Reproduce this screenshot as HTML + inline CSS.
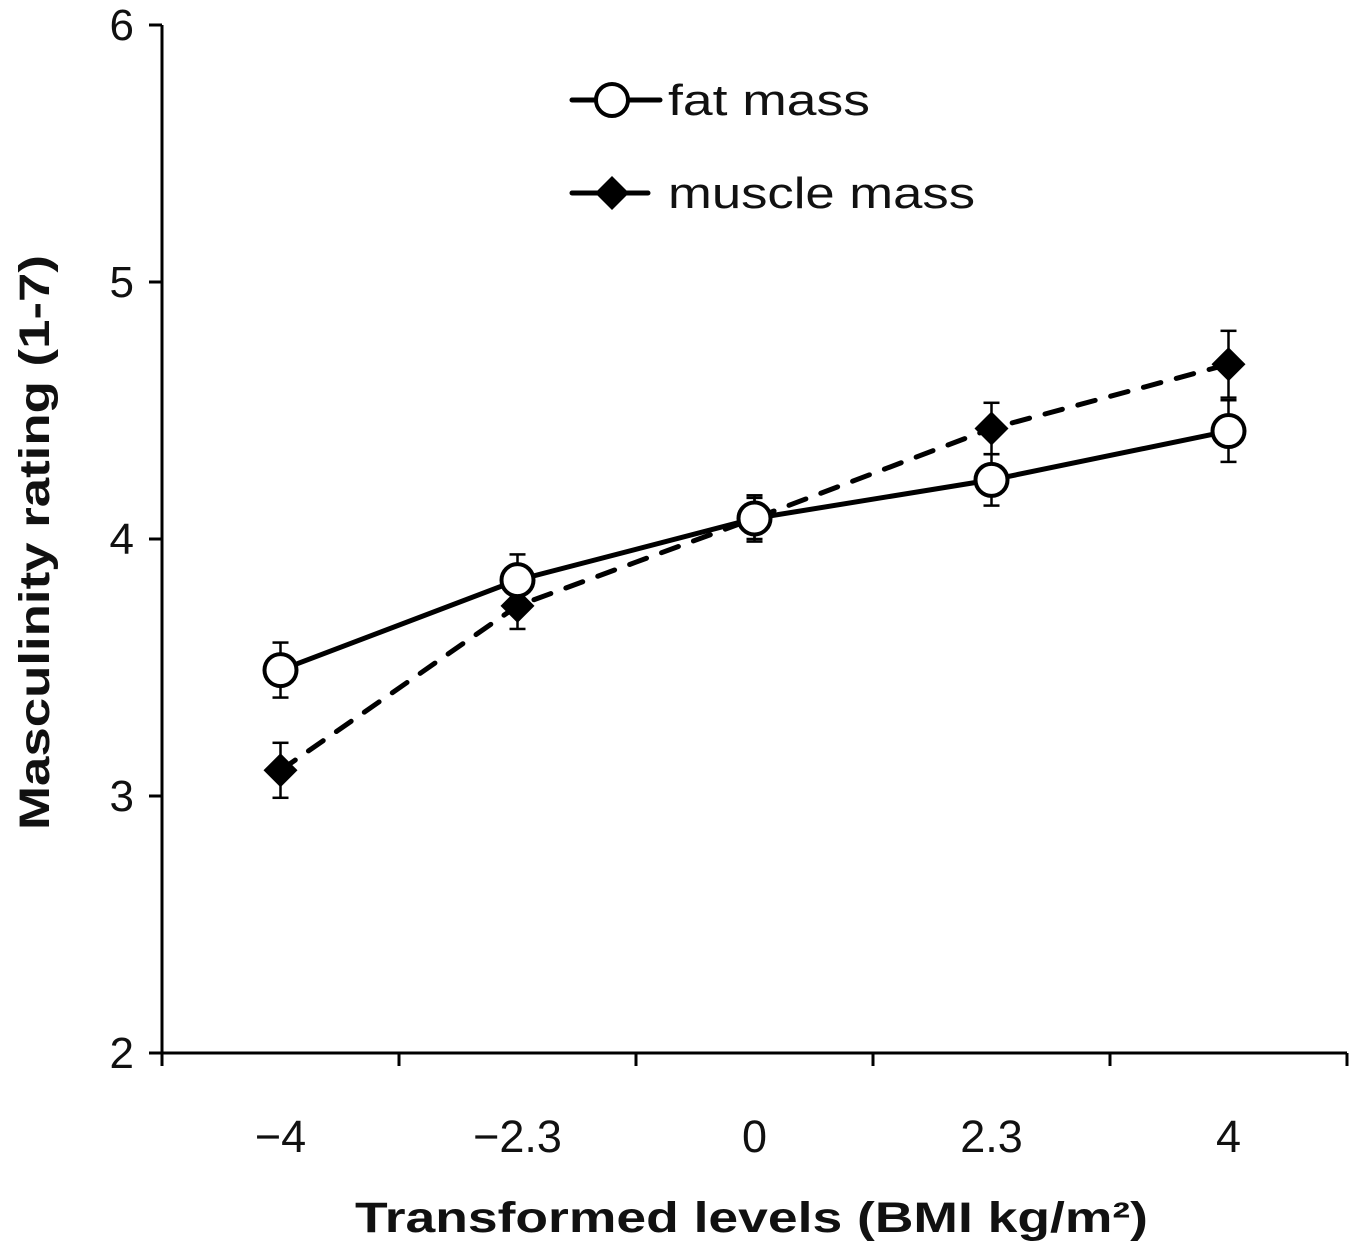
<!DOCTYPE html>
<html><head><meta charset="utf-8"><style>
body{margin:0;background:#fff;}
svg text{font-family:"Liberation Sans",sans-serif;fill:#111;}
</style></head><body>
<svg id="chart" width="1357" height="1250" viewBox="0 0 1357 1250" xmlns="http://www.w3.org/2000/svg">
<g id="axes"></g><g id="series"></g>
<g>
 <g>
  <line x1="572" y1="100" x2="660" y2="100" stroke="#000" stroke-width="5" stroke-linecap="round"/>
  <circle cx="612" cy="100" r="16" fill="#fff" stroke="#000" stroke-width="4"/>
  <text x="668" y="115" font-size="44" textLength="202" lengthAdjust="spacingAndGlyphs">fat mass</text>
 </g>
 <g>
  <line x1="572" y1="193" x2="648" y2="193" stroke="#000" stroke-width="5" stroke-linecap="round"/>
  <polygon points="612,176 629,193 612,210 595,193" fill="#000"/>
  <text x="668" y="208" font-size="44" textLength="307" lengthAdjust="spacingAndGlyphs">muscle mass</text>
 </g>
</g>
<text x="355" y="1232" font-size="43" font-weight="bold" textLength="793" lengthAdjust="spacingAndGlyphs">Transformed levels (BMI kg/m²)</text>
<text transform="translate(49,830) rotate(-90)" font-size="43" font-weight="bold" textLength="575" lengthAdjust="spacingAndGlyphs">Masculinity rating (1-7)</text>
</svg>
<script>
const categories = ["\u22124", "\u22122.3", "0", "2.3", "4"];
const fatValues = [3.49, 3.84, 4.08, 4.23, 4.42];
const fatErrors = [0.107, 0.10, 0.09, 0.10, 0.12];
const muscleValues = [3.10, 3.74, 4.08, 4.43, 4.68];
const muscleErrors = [0.107, 0.09, 0.08, 0.10, 0.13];
const yTicks = [2, 3, 4, 5, 6];

const NS = "http://www.w3.org/2000/svg";
const x0 = 162, x1 = 1347, yBase = 1053, yTop = 25;
const yMin = 2, yMax = 6;
const band = (x1 - x0) / categories.length;
const xScale = i => x0 + band * (i + 0.5);
const yScale = v => yBase - (v - yMin) / (yMax - yMin) * (yBase - yTop);
function mk(tag, attrs, parent) {
  const e = document.createElementNS(NS, tag);
  for (const k in attrs) e.setAttribute(k, attrs[k]);
  parent.appendChild(e); return e;
}
const axes = document.getElementById("axes");
const series = document.getElementById("series");

let a = mk("line", {x1: x0, y1: yTop, x2: x0, y2: yBase, stroke: "#000", "stroke-width": 3}, axes);


a = mk("line", {x1: x0, y1: yBase, x2: x1, y2: yBase, stroke: "#000", "stroke-width": 3}, axes);



yTicks.forEach(t => {
  const y = yScale(t);
  mk("line", {x1: x0 - 13, y1: y, x2: x0, y2: y, stroke: "#000", "stroke-width": 3}, axes);
  const tx = mk("text", {x: 134, y: y + 15, "font-size": 44, "text-anchor": "end"}, axes);
  tx.textContent = t;
  
  
});
for (let i = 0; i <= categories.length; i++) {
  const x = x0 + band * i;
  mk("line", {x1: x, y1: yBase, x2: x, y2: yBase + 13, stroke: "#000", "stroke-width": 3}, axes);
}
categories.forEach((c, i) => {
  const tx = mk("text", {x: xScale(i), y: 1152, "font-size": 45, "text-anchor": "middle"}, axes);
  tx.textContent = c;
  
  
});

function drawSeries(vals, errs, dashed, marker, name) {
  const g = mk("g", {}, series);
  
  
  const pts = vals.map((v, i) => xScale(i) + "," + yScale(v)).join(" ");
  const pl = mk("polyline", {points: pts, fill: "none", stroke: "#000", "stroke-width": 5, "stroke-linecap": "round"}, g);
  if (dashed) pl.setAttribute("stroke-dasharray", "18 16");
  
  
  vals.forEach((v, i) => {
    const x = xScale(i), yt = yScale(v + errs[i]), yb = yScale(v - errs[i]);
    mk("line", {x1: x, y1: yt, x2: x, y2: yb, stroke: "#000", "stroke-width": 2.5}, g);
    mk("line", {x1: x - 8, y1: yt, x2: x + 8, y2: yt, stroke: "#000", "stroke-width": 2.5}, g);
    mk("line", {x1: x - 8, y1: yb, x2: x + 8, y2: yb, stroke: "#000", "stroke-width": 2.5}, g);
  });
  vals.forEach((v, i) => {
    const x = xScale(i), y = yScale(v);
    let m;
    if (marker === "circle") m = mk("circle", {cx: x, cy: y, r: 16, fill: "#fff", stroke: "#000", "stroke-width": 4}, g);
    else m = mk("polygon", {points: `${x},${y-17} ${x+17},${y} ${x},${y+17} ${x-17},${y}`, fill: "#000"}, g);
    
    
  });
}
drawSeries(muscleValues, muscleErrors, true, "diamond", "muscle-mass");
drawSeries(fatValues, fatErrors, false, "circle", "fat-mass");
</script>
</body></html>
